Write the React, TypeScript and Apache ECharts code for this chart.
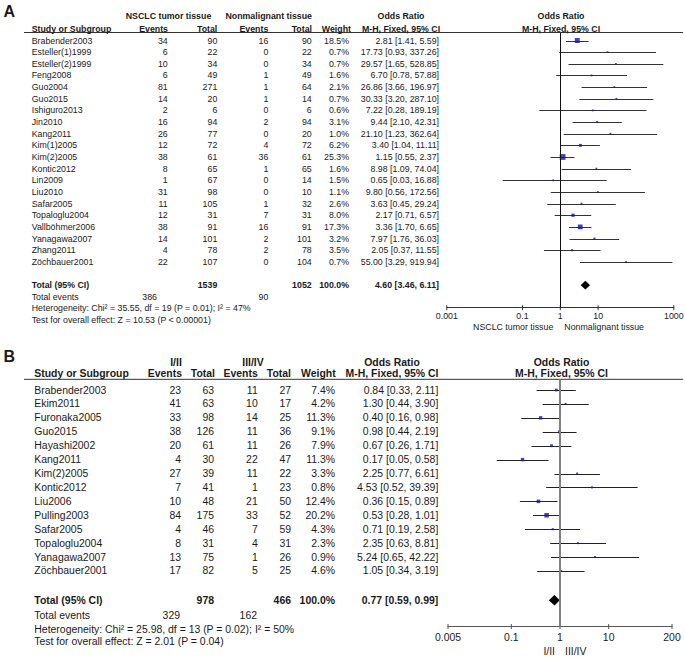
import React, { useEffect, useRef } from 'react';
import * as echarts from 'echarts';

// ---------------- Panel A data ----------------
const studiesA = ['Brabender2003', 'Esteller(1)1999', 'Esteller(2)1999', 'Feng2008', 'Guo2004', 'Guo2015', 'Ishiguro2013', 'Jin2010', 'Kang2011', 'Kim(1)2005', 'Kim(2)2005', 'Kontic2012', 'Lin2009', 'Liu2010', 'Safar2005', 'Topaloglu2004', 'Vallböhmer2006', 'Yanagawa2007', 'Zhang2011', 'Zöchbauer2001'];
const tumorEventsA = [34, 6, 10, 6, 81, 14, 2, 16, 26, 12, 38, 8, 1, 31, 11, 12, 38, 14, 4, 22];
const tumorTotalA = [90, 22, 34, 49, 271, 20, 6, 94, 77, 72, 61, 65, 67, 98, 105, 31, 91, 101, 78, 107];
const nonEventsA = [16, 0, 0, 1, 1, 1, 0, 2, 0, 4, 36, 1, 0, 0, 1, 7, 16, 2, 2, 0];
const nonTotalA = [90, 22, 34, 49, 64, 14, 6, 94, 20, 72, 61, 65, 14, 10, 32, 31, 91, 101, 78, 104];
const weightA = [18.5, 0.7, 0.7, 1.6, 2.1, 0.7, 0.6, 3.1, 1.0, 6.2, 25.3, 1.6, 1.5, 1.1, 2.6, 8.0, 17.3, 3.2, 3.5, 0.7];
const orA = [2.81, 17.73, 29.57, 6.70, 26.86, 30.33, 7.22, 9.44, 21.10, 3.40, 1.15, 8.98, 0.65, 9.80, 3.63, 2.17, 3.36, 7.97, 2.05, 55.00];
const lowA = [1.41, 0.93, 1.65, 0.78, 3.66, 3.20, 0.28, 2.10, 1.23, 1.04, 0.55, 1.09, 0.03, 0.56, 0.45, 0.71, 1.70, 1.76, 0.37, 3.29];
const highA = [5.59, 337.26, 528.85, 57.88, 196.97, 287.10, 189.19, 42.31, 362.64, 11.11, 2.37, 74.04, 16.88, 172.56, 29.24, 6.57, 6.65, 36.03, 11.55, 919.94];
const pooledA = [4.60, 3.46, 6.11];
const grandTotalsA = [1539, 1052];
const totalWeightA = '100.0%';
const totalEventsA = [386, 90];
const heterogeneityA = 'Heterogeneity: Chi² = 35.55, df = 19 (P = 0.01); I² = 47%';
const overallEffectA = 'Test for overall effect: Z = 10.53 (P < 0.00001)';
const groupLabelsA = ['NSCLC tumor tissue', 'Nonmalignant tissue'];
const tickValuesA = [0.001, 0.1, 1, 10, 1000];
const tickLabelsA = ['0.001', '0.1', '1', '10', '1000'];
const favoursA = ['NSCLC tumor tissue', 'Nonmalignant tissue'];

// ---------------- Panel B data ----------------
const studiesB = ['Brabender2003', 'Ekim2011', 'Furonaka2005', 'Guo2015', 'Hayashi2002', 'Kang2011', 'Kim(2)2005', 'Kontic2012', 'Liu2006', 'Pulling2003', 'Safar2005', 'Topaloglu2004', 'Yanagawa2007', 'Zöchbauer2001'];
const earlyEventsB = [23, 41, 33, 38, 20, 4, 27, 7, 10, 84, 4, 8, 13, 17];
const earlyTotalB = [63, 63, 98, 126, 61, 30, 39, 41, 48, 175, 46, 31, 75, 82];
const lateEventsB = [11, 10, 14, 11, 11, 22, 11, 1, 21, 33, 7, 4, 1, 5];
const lateTotalB = [27, 17, 25, 36, 26, 47, 22, 23, 50, 52, 59, 31, 26, 25];
const weightB = [7.4, 4.2, 11.3, 9.1, 7.9, 11.3, 3.3, 0.8, 12.4, 20.2, 4.3, 2.3, 0.9, 4.6];
const orB = [0.84, 1.30, 0.40, 0.98, 0.67, 0.17, 2.25, 4.53, 0.36, 0.53, 0.71, 2.35, 5.24, 1.05];
const lowB = [0.33, 0.44, 0.16, 0.44, 0.26, 0.05, 0.77, 0.52, 0.15, 0.28, 0.19, 0.63, 0.65, 0.34];
const highB = [2.11, 3.90, 0.98, 2.19, 1.71, 0.58, 6.61, 39.39, 0.89, 1.01, 2.58, 8.81, 42.22, 3.19];
const pooledB = [0.77, 0.59, 0.99];
const grandTotalsB = [978, 466];
const totalWeightB = '100.0%';
const totalEventsB = [329, 162];
const heterogeneityB = 'Heterogeneity: Chi² = 25.98, df = 13 (P = 0.02); I² = 50%';
const overallEffectB = 'Test for overall effect: Z = 2.01 (P = 0.04)';
const groupLabelsB = ['I/II', 'III/IV'];
const tickValuesB = [0.005, 0.1, 1, 10, 200];
const tickLabelsB = ['0.005', '0.1', '1', '10', '200'];
const favoursB = ['I/II', 'III/IV'];

// ---------------- layout / style ----------------
const FONT = '"Liberation Sans", Arial, Helvetica, sans-serif';
const TEXT = '#1a1a1a';
const SQUARE = '#1212a8';

const layoutA = {
  letter: 'A', letterRow: -2.5, fs: 8.8,
  grid: { left: 446.8, top: 33, width: 227, height: 274.7 },
  yMin: -0.6438, yMax: 22.936, xMin: 0.001, xMax: 1000,
  nameX: 31.7,
  cols: [167.7, 217.3, 268.3, 311.7, 349, 439],
  hdrCols: [168, 217.3, 268.3, 312, 351],
  groupCenters: [168.5, 268.7],
  orCenter: 401, plotCenter: 561,
  hdr1Row: -2.1, hdr2Row: -1,
  totalRow: 21, eventsRow: 22.05, hetRow: 23, testRow: 23.95,
  totalEventsCols: [157, 268.3],
  underlineY: 32.5, lineX: [24, 683],
  diamondHalf: 4.3, sqK: 1.15, sqMin: 1.8,
  tickLen: 2.5, tickLabelDy: 8.2, favDy: 19.6, favGap: [7, 4],
  axisColor: '#333', refColor: '#111', refWidth: 1, ciColor: '#333',
};

const layoutB = {
  letter: 'B', letterRow: -2.44, fs: 10.45,
  grid: { left: 448, top: 379.3, width: 224, height: 247.2 },
  yMin: -0.769, yMax: 16.99, xMin: 0.005, xMax: 200,
  nameX: 34.3,
  cols: [181, 214, 257.7, 291, 335, 438.3],
  hdrCols: [182, 215, 257.7, 291, 335.7],
  groupCenters: [176, 253],
  orCenter: 392, plotCenter: 561.5,
  hdr1Row: -2, hdr2Row: -1.15,
  totalRow: 15.1, eventsRow: 16.22, hetRow: 17.2, testRow: 18.08,
  totalEventsCols: [180, 257],
  underlineY: 379.3, lineX: [24, 683],
  diamondHalf: 5.2, sqK: 1.0, sqMin: 2,
  tickLen: 2.5, tickLabelDy: 10.5, favDy: 24.5, favGap: [5, 5],
  axisColor: '#555', refColor: '#808080', refWidth: 2, ciColor: '#222',
};

const panelA = {
  studies: studiesA, e1: tumorEventsA, t1: tumorTotalA, e2: nonEventsA, t2: nonTotalA,
  w: weightA, or: orA, lo: lowA, hi: highA, pooled: pooledA, totals: grandTotalsA,
  totalWeight: totalWeightA, totalEvents: totalEventsA, het: heterogeneityA, test: overallEffectA,
  groups: groupLabelsA, ticks: tickValuesA, tickLabels: tickLabelsA, favours: favoursA,
};
const panelB = {
  studies: studiesB, e1: earlyEventsB, t1: earlyTotalB, e2: lateEventsB, t2: lateTotalB,
  w: weightB, or: orB, lo: lowB, hi: highB, pooled: pooledB, totals: grandTotalsB,
  totalWeight: totalWeightB, totalEvents: totalEventsB, het: heterogeneityB, test: overallEffectB,
  groups: groupLabelsB, ticks: tickValuesB, tickLabels: tickLabelsB, favours: favoursB,
};

type Cell = { t: string; x: number; a: string; b?: boolean; fs?: number };
type Row = { r: number; cells: Cell[] };

const fmtOR = (o: number, l: number, h: number) => `${o.toFixed(2)} [${l.toFixed(2)}, ${h.toFixed(2)}]`;

function buildRows(d: any, L: any): Row[] {
  const rows: Row[] = [];
  rows.push({ r: L.letterRow, cells: [{ t: L.letter, x: 3.5, a: 'left', b: true, fs: 16 }] });
  rows.push({
    r: L.hdr1Row, cells: [
      { t: d.groups[0], x: L.groupCenters[0], a: 'center', b: true },
      { t: d.groups[1], x: L.groupCenters[1], a: 'center', b: true },
      { t: 'Odds Ratio', x: L.orCenter, a: 'center', b: true },
      { t: 'Odds Ratio', x: L.plotCenter, a: 'center', b: true },
    ],
  });
  rows.push({
    r: L.hdr2Row, cells: [
      { t: 'Study or Subgroup', x: L.nameX, a: 'left', b: true },
      { t: 'Events', x: L.hdrCols[0], a: 'right', b: true },
      { t: 'Total', x: L.hdrCols[1], a: 'right', b: true },
      { t: 'Events', x: L.hdrCols[2], a: 'right', b: true },
      { t: 'Total', x: L.hdrCols[3], a: 'right', b: true },
      { t: 'Weight', x: L.hdrCols[4], a: 'right', b: true },
      { t: 'M-H, Fixed, 95% CI', x: L.orCenter, a: 'center', b: true },
      { t: 'M-H, Fixed, 95% CI', x: L.plotCenter, a: 'center', b: true },
    ],
  });
  d.studies.forEach((s: string, k: number) => {
    rows.push({
      r: k, cells: [
        { t: s, x: L.nameX, a: 'left' },
        { t: String(d.e1[k]), x: L.cols[0], a: 'right' },
        { t: String(d.t1[k]), x: L.cols[1], a: 'right' },
        { t: String(d.e2[k]), x: L.cols[2], a: 'right' },
        { t: String(d.t2[k]), x: L.cols[3], a: 'right' },
        { t: d.w[k].toFixed(1) + '%', x: L.cols[4], a: 'right' },
        { t: fmtOR(d.or[k], d.lo[k], d.hi[k]), x: L.cols[5], a: 'right' },
      ],
    });
  });
  rows.push({
    r: L.totalRow, cells: [
      { t: 'Total (95% CI)', x: L.nameX, a: 'left', b: true },
      { t: String(d.totals[0]), x: L.cols[1], a: 'right', b: true },
      { t: String(d.totals[1]), x: L.cols[3], a: 'right', b: true },
      { t: d.totalWeight, x: L.cols[4], a: 'right', b: true },
      { t: fmtOR(d.pooled[0], d.pooled[1], d.pooled[2]), x: L.cols[5], a: 'right', b: true },
    ],
  });
  rows.push({
    r: L.eventsRow, cells: [
      { t: 'Total events', x: L.nameX, a: 'left' },
      { t: String(d.totalEvents[0]), x: L.totalEventsCols[0], a: 'right' },
      { t: String(d.totalEvents[1]), x: L.totalEventsCols[1], a: 'right' },
    ],
  });
  rows.push({ r: L.hetRow, cells: [{ t: d.het, x: L.nameX, a: 'left' }] });
  rows.push({ r: L.testRow, cells: [{ t: d.test, x: L.nameX, a: 'left' }] });
  return rows;
}

function textStyle(text: string, align: string, fs: number, bold?: boolean) {
  return {
    text, fill: TEXT, fontSize: fs, fontFamily: FONT, fontWeight: bold ? 'bold' : 'normal',
    align, verticalAlign: 'middle', textAlign: align, textVerticalAlign: 'middle',
  };
}

function buildOption() {
  const panels = [panelA, panelB];
  const layouts = [layoutA, layoutB];
  const grid: any[] = [];
  const xAxis: any[] = [];
  const yAxis: any[] = [];
  const series: any[] = [];
  const graphic: any[] = [];

  panels.forEach((d: any, i: number) => {
    const L: any = layouts[i];
    grid.push({ left: L.grid.left, top: L.grid.top, width: L.grid.width, height: L.grid.height, containLabel: false });
    xAxis.push({
      type: 'log', logBase: 10, gridIndex: i, min: L.xMin, max: L.xMax, position: 'bottom',
      axisLine: { show: true, onZero: false, lineStyle: { color: L.axisColor, width: 1 } },
      axisTick: { show: false }, axisLabel: { show: false }, splitLine: { show: false },
    });
    yAxis.push({ type: 'value', gridIndex: i, inverse: true, min: L.yMin, max: L.yMax, show: false, splitLine: { show: false } });

    graphic.push({
      type: 'line', silent: true,
      shape: { x1: L.lineX[0], y1: L.underlineY, x2: L.lineX[1], y2: L.underlineY },
      style: { stroke: '#333', lineWidth: 1 },
    });

    const rows = buildRows(d, L);
    series.push({
      type: 'custom', name: 'table' + i, xAxisIndex: i, yAxisIndex: i, clip: false, silent: true, z: 5,
      data: rows.map((r) => [1, r.r]),
      encode: { x: 0, y: 1 },
      renderItem: (params: any, api: any) => {
        const row = rows[params.dataIndex];
        const y = api.coord([1, api.value(1)])[1];
        return {
          type: 'group',
          children: row.cells.map((c) => ({
            type: 'text', x: c.x, y, silent: true,
            style: textStyle(c.t, c.a, c.fs || L.fs, c.b),
          })),
        };
      },
    });

    // confidence interval lines
    series.push({
      type: 'custom', name: 'ci' + i, xAxisIndex: i, yAxisIndex: i, clip: false, silent: true, z: 2,
      data: d.lo.map((l: number, k: number) => [l, d.hi[k], k]),
      encode: { x: [0, 1], y: 2 },
      renderItem: (params: any, api: any) => {
        const a = api.coord([api.value(0), api.value(2)]);
        const b = api.coord([api.value(1), api.value(2)]);
        return {
          type: 'line',
          shape: { x1: a[0], y1: Math.round(a[1]) + 0.5, x2: b[0], y2: Math.round(b[1]) + 0.5 },
          style: { stroke: L.ciColor, lineWidth: 1 },
        };
      },
    });

    // point estimates
    series.push({
      type: 'scatter', name: 'or' + i, xAxisIndex: i, yAxisIndex: i, silent: true, z: 4,
      symbol: 'rect',
      symbolSize: (v: number[]) => Math.max(L.sqMin, L.sqK * Math.sqrt(v[2])),
      itemStyle: { color: SQUARE },
      data: d.or.map((o: number, k: number) => [o, k, d.w[k]]),
      markLine: {
        silent: true, symbol: ['none', 'none'], label: { show: false },
        lineStyle: { color: L.refColor, width: L.refWidth, type: 'solid' },
        data: [{ xAxis: 1 }],
      },
    });

    // pooled diamond
    series.push({
      type: 'custom', name: 'pooled' + i, xAxisIndex: i, yAxisIndex: i, clip: false, silent: true, z: 4,
      data: [[d.pooled[1], d.pooled[0], d.pooled[2], L.totalRow]],
      encode: { x: [0, 1, 2], y: 3 },
      renderItem: (params: any, api: any) => {
        const r = api.value(3);
        const a = api.coord([api.value(0), r]);
        const m = api.coord([api.value(1), r]);
        const b = api.coord([api.value(2), r]);
        const h = L.diamondHalf;
        return {
          type: 'polygon',
          shape: { points: [[a[0], a[1]], [m[0], m[1] - h], [b[0], b[1]], [m[0], m[1] + h]] },
          style: { fill: '#000' },
        };
      },
    });

    // axis ticks and labels
    series.push({
      type: 'custom', name: 'ticks' + i, xAxisIndex: i, yAxisIndex: i, clip: false, silent: true, z: 3,
      data: d.ticks.map((v: number) => [v, L.yMax]),
      encode: { x: 0, y: 1 },
      renderItem: (params: any, api: any) => {
        const p = api.coord([api.value(0), api.value(1)]);
        return {
          type: 'group',
          children: [
            { type: 'line', shape: { x1: p[0], y1: p[1] - L.tickLen, x2: p[0], y2: p[1] + L.tickLen }, style: { stroke: L.axisColor, lineWidth: 1 } },
            { type: 'text', x: p[0], y: p[1] + L.tickLabelDy, style: textStyle(d.tickLabels[params.dataIndex], 'center', L.fs) },
          ],
        };
      },
    });

    // favours labels
    series.push({
      type: 'custom', name: 'favours' + i, xAxisIndex: i, yAxisIndex: i, clip: false, silent: true, z: 3,
      data: [[1, L.yMax]],
      encode: { x: 0, y: 1 },
      renderItem: (params: any, api: any) => {
        const p = api.coord([api.value(0), api.value(1)]);
        return {
          type: 'group',
          children: [
            { type: 'text', x: p[0] - L.favGap[0], y: p[1] + L.favDy, style: textStyle(d.favours[0], 'right', L.fs) },
            { type: 'text', x: p[0] + L.favGap[1], y: p[1] + L.favDy, style: textStyle(d.favours[1], 'left', L.fs) },
          ],
        };
      },
    });
  });

  return { animation: false, backgroundColor: '#ffffff', grid, xAxis, yAxis, series, graphic };
}

export default function App() {
  const ref = useRef<HTMLDivElement>(null);
  useEffect(() => {
    const chart = echarts.init(ref.current as HTMLDivElement, null, { renderer: 'svg' });
    chart.setOption(buildOption() as any);
    return () => chart.dispose();
  }, []);
  return (
    <div
      ref={ref}
      style={{ position: 'fixed', left: 0, top: 0, width: 685, height: 657, background: '#fff' }}
    />
  );
}
